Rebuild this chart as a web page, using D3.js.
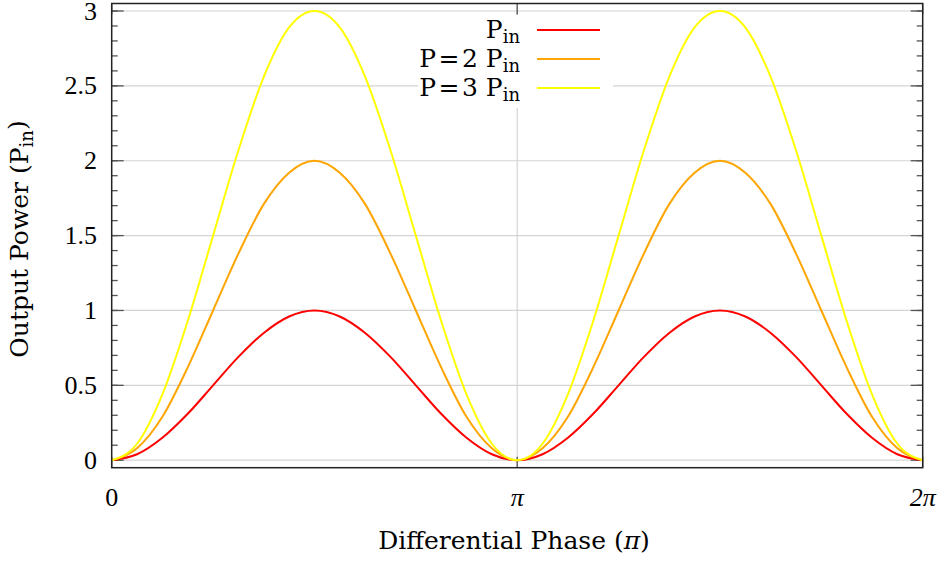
<!DOCTYPE html>
<html>
<head>
<meta charset="utf-8">
<script src="https://cdn.jsdelivr.net/npm/d3@7"></script>
<style>
  body { margin: 0; background: #fff; }
  svg { display: block; }
  .title { font-family: "DejaVu Serif", serif; font-size: 25px; fill: #000; }
  .tick-label { font-family: "Liberation Serif", serif; font-size: 26px; fill: #000; }
</style>
</head>
<body>
<svg width="939" height="561"></svg>
<script>
// phase in units of pi, sampled every pi/16
var phase = [0, 0.0625, 0.125, 0.1875, 0.25, 0.3125, 0.375, 0.4375, 0.5,
  0.5625, 0.625, 0.6875, 0.75, 0.8125, 0.875, 0.9375, 1,
  1.0625, 1.125, 1.1875, 1.25, 1.3125, 1.375, 1.4375, 1.5,
  1.5625, 1.625, 1.6875, 1.75, 1.8125, 1.875, 1.9375, 2];

// output power (units of P_in)
var powerP1 = [0, 0.04, 0.15, 0.31, 0.5, 0.69, 0.85, 0.96, 1,
  0.96, 0.85, 0.69, 0.5, 0.31, 0.15, 0.04, 0,
  0.04, 0.15, 0.31, 0.5, 0.69, 0.85, 0.96, 1,
  0.96, 0.85, 0.69, 0.5, 0.31, 0.15, 0.04, 0];
var powerP2 = [0, 0.08, 0.29, 0.62, 1, 1.38, 1.71, 1.92, 2,
  1.92, 1.71, 1.38, 1, 0.62, 0.29, 0.08, 0,
  0.08, 0.29, 0.62, 1, 1.38, 1.71, 1.92, 2,
  1.92, 1.71, 1.38, 1, 0.62, 0.29, 0.08, 0];
var powerP3 = [0, 0.11, 0.44, 0.93, 1.5, 2.07, 2.56, 2.89, 3,
  2.89, 2.56, 2.07, 1.5, 0.93, 0.44, 0.11, 0,
  0.11, 0.44, 0.93, 1.5, 2.07, 2.56, 2.89, 3,
  2.89, 2.56, 2.07, 1.5, 0.93, 0.44, 0.11, 0];

var seriesPrefix = ["", "P\u200a=\u200a2 ", "P\u200a=\u200a3 "];
var seriesColors = ["#ff0000", "#ffa500", "#ffff00"];
var seriesValues = [powerP1, powerP2, powerP3];

var yMajor = [0, 0.5, 1, 1.5, 2, 2.5, 3];
var yMinor = d3.range(0, 3.001, 0.1);
var yTickLabels = ["0", "0.5", "1", "1.5", "2", "2.5", "3"];
var xMajor = [0, 1, 2];
var xTickLabels = ["0", "\u03c0", "2\u03c0"];

var svg = d3.select("svg");

var plotLeft = 111.7, plotRight = 922.7, plotTop = 3.5, plotBottom = 467.7;

var x = d3.scaleLinear().domain([0, 2]).range([plotLeft, plotRight]);
var y = d3.scaleLinear().domain([-0.05, 3.05]).range([plotBottom, plotTop]);

// grid
var grid = svg.append("g").attr("class", "grid");
grid.append("g").selectAll("line")
  .data(yMajor)
  .enter().append("line")
  .attr("x1", plotLeft).attr("x2", plotRight)
  .attr("y1", function (d) { return y(d); })
  .attr("y2", function (d) { return y(d); })
  .attr("stroke", "#d4d4d4").attr("stroke-width", 1.2);
grid.append("g").selectAll("line")
  .data([1])
  .enter().append("line")
  .attr("x1", function (d) { return x(d); })
  .attr("x2", function (d) { return x(d); })
  .attr("y1", plotTop).attr("y2", plotBottom)
  .attr("stroke", "#d4d4d4").attr("stroke-width", 1.2);

// ticks, inward on all four sides
var ticks = svg.append("g").attr("stroke", "#555").attr("stroke-width", 1.3);
function yTicks(values, len) {
  ticks.append("g").selectAll("line")
    .data(values).enter().append("line")
    .attr("x1", plotLeft).attr("x2", plotLeft + len)
    .attr("y1", function (d) { return y(d); })
    .attr("y2", function (d) { return y(d); });
  ticks.append("g").selectAll("line")
    .data(values).enter().append("line")
    .attr("x1", plotRight).attr("x2", plotRight - len)
    .attr("y1", function (d) { return y(d); })
    .attr("y2", function (d) { return y(d); });
}
yTicks(yMinor, 6);
yTicks(yMajor, 12);
ticks.append("g").selectAll("line")
  .data(xMajor).enter().append("line")
  .attr("x1", function (d) { return x(d); })
  .attr("x2", function (d) { return x(d); })
  .attr("y1", plotBottom).attr("y2", plotBottom - 11);
ticks.append("g").selectAll("line")
  .data(xMajor).enter().append("line")
  .attr("x1", function (d) { return x(d); })
  .attr("x2", function (d) { return x(d); })
  .attr("y1", plotTop).attr("y2", plotTop + 11);

// curves
var line = d3.line()
  .x(function (d) { return x(d[0]); })
  .y(function (d) { return y(d[1]); })
  .curve(d3.curveMonotoneX);

svg.append("g").selectAll("path")
  .data(seriesValues)
  .enter().append("path")
  .attr("d", function (vals) { return line(d3.zip(phase, vals)); })
  .attr("fill", "none")
  .attr("stroke", function (d, i) { return seriesColors[i]; })
  .attr("stroke-width", 2);

// legend
var legend = svg.append("g").attr("class", "legend");
legend.append("rect")
  .attr("x", 418).attr("y", 15)
  .attr("width", 195).attr("height", 93)
  .attr("fill", "#fff");

var rows = legend.selectAll("g.row")
  .data(seriesPrefix)
  .enter().append("g")
  .attr("transform", function (d, i) { return "translate(0," + (30 + i * 29) + ")"; });

rows.append("line")
  .attr("x1", 537).attr("x2", 600)
  .attr("y1", 0).attr("y2", 0)
  .attr("stroke", function (d, i) { return seriesColors[i]; })
  .attr("stroke-width", 2);

var lt = rows.append("text")
  .attr("class", "title")
  .attr("x", 520).attr("y", 8)
  .attr("text-anchor", "end");
lt.append("tspan").text(function (d) { return d + "P"; });
lt.append("tspan").attr("dy", "0.28em").attr("font-size", "18px").text("in");

// frame
svg.append("rect")
  .attr("x", plotLeft).attr("y", plotTop)
  .attr("width", plotRight - plotLeft).attr("height", plotBottom - plotTop)
  .attr("fill", "none").attr("stroke", "#222").attr("stroke-width", 1.5);

// tick labels
svg.append("g").selectAll("text")
  .data(yMajor).enter().append("text")
  .attr("class", "tick-label")
  .attr("x", 97)
  .attr("y", function (d) { return y(d); })
  .attr("dy", "0.33em")
  .attr("text-anchor", "end")
  .text(function (d, i) { return yTickLabels[i]; });

svg.append("g").selectAll("text")
  .data(xMajor).enter().append("text")
  .attr("class", "tick-label")
  .attr("x", function (d) { return x(d); })
  .attr("y", 506)
  .attr("text-anchor", "middle")
  .attr("font-style", function (d) { return d === 0 ? "normal" : "italic"; })
  .text(function (d, i) { return xTickLabels[i]; });

// axis titles
var xt = svg.append("text")
  .attr("class", "title")
  .attr("x", 514).attr("y", 549)
  .attr("text-anchor", "middle");
xt.append("tspan").text("Differential Phase (");
xt.append("tspan").attr("font-style", "italic").text("\u03c0");
xt.append("tspan").text(")");

var yt = svg.append("text")
  .attr("class", "title")
  .attr("transform", "translate(28,239) rotate(-90)")
  .attr("text-anchor", "middle");
yt.append("tspan").text("Output Power (P");
yt.append("tspan").attr("dy", "0.28em").attr("font-size", "18px").text("in");
yt.append("tspan").attr("dy", "-0.28em").text(")");
</script>
</body>
</html>
